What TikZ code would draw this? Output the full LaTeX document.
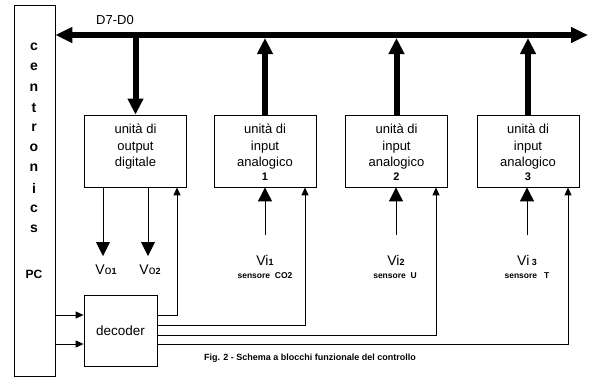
\documentclass[tikz,border=0pt]{standalone}
\usepackage{fontspec}
\setmainfont{Liberation Sans}
\usetikzlibrary{arrows.meta}
\begin{document}
\begin{tikzpicture}[x=1pt,y=-1pt,
  frame/.style={draw, line width=0.8pt, inner sep=0pt},
  box/.style={frame, minimum width=102pt, minimum height=72pt},
  boxtxt/.style={font=\fontsize{13}{16.5}\selectfont, align=center, inner sep=0pt, anchor=north},
  letter/.style={font=\fontsize{14}{14}\selectfont\bfseries, inner sep=0pt},
  bus/.style={line width=6pt},
  thinline/.style={line width=0.9pt},
  bustip/.style={-{Triangle[length=16pt,width=15pt]}},
  midtip/.style={-{Triangle[length=14pt,width=14pt]}},
  smalltip/.style={-{Triangle[length=8pt,width=7pt]}},
  vlab/.style={font=\fontsize{14}{14}\selectfont, inner sep=0pt},
  slab/.style={font=\fontsize{8.5}{8.5}\selectfont\bfseries, inner sep=0pt},
  numtxt/.style={font=\fontsize{11}{12}\selectfont\bfseries}
]
\useasboundingbox (0,0) rectangle (593,378);
\fill[white] (0,0) rectangle (593,378);

% centronics
\node[frame, minimum width=41pt, minimum height=371pt] (cent) at (34.5,190.5) {};
\foreach \l [count=\i] in {c,e,n,t,r,o,n,i,c,s}
  \node[letter] (cl\i) at (34,{47+20.2*(\i-1)}) {\l};
\node[letter, font=\fontsize{12}{12}\selectfont\bfseries] (pc) at (34,274) {PC};

% bus
\coordinate (busR) at (588,35);
\draw[bus, {Triangle[length=17pt,width=15pt]}-{Triangle[length=17pt,width=15pt]}] (cent.east |- busR) -- (busR);
\node[font=\fontsize{13}{13}\selectfont, inner sep=0pt] (dlab) at (115,20) {D7-D0};

% boxes
\node[box] (u1) at (135.5,151) {};
\node[box] (u2) at (265,151) {};
\node[box] (u3) at (396.5,151) {};
\node[box] (u4) at (528,151) {};
\node[boxtxt] (t1) at ([yshift=-9.5pt]u1.north) {unità di\\output\\digitale};
\node[boxtxt] (t2) at ([yshift=-9.5pt]u2.north) {unità di\\input\\analogico\\[-2.5pt]{\fontsize{11}{12}\selectfont\bfseries 1}};
\node[boxtxt] (t3) at ([yshift=-9.5pt]u3.north) {unità di\\input\\analogico\\[-2.5pt]{\fontsize{11}{12}\selectfont\bfseries 2}};
\node[boxtxt] (t4) at ([yshift=-9.5pt]u4.north) {unità di\\input\\analogico\\[-2.5pt]{\fontsize{11}{12}\selectfont\bfseries 3}};

% bus taps
\draw[bus, bustip] (u1.north |- busR) -- (u1.north);
\draw[bus, bustip] (u2.north) -- ([yshift=-3pt]u2.north |- busR);
\draw[bus, bustip] (u3.north) -- ([yshift=-3pt]u3.north |- busR);
\draw[bus, bustip] (u4.north) -- ([yshift=-3pt]u4.north |- busR);

% outputs
\coordinate (a1) at (103,256);
\coordinate (a2) at (148,256);
\draw[thinline, midtip] (a1 |- u1.south) -- (a1);
\draw[thinline, midtip] (a2 |- u1.south) -- (a2);
\node[vlab] (vo1) at (106,270) {V{\fontsize{12}{12}\selectfont o}{\fontsize{9}{9}\selectfont\bfseries 1}};
\node[vlab] (vo2) at (150,270) {V{\fontsize{12}{12}\selectfont o}{\fontsize{9}{9}\selectfont\bfseries 2}};

% inputs
\coordinate (s1) at (265,235);
\coordinate (s2) at (396,235);
\coordinate (s3) at (527,235);
\draw[thinline, midtip] (s1) -- (s1 |- u2.south);
\draw[thinline, midtip] (s2) -- (s2 |- u3.south);
\draw[thinline, midtip] (s3) -- (s3 |- u4.south);
\node[vlab] (vi1) at (265,260) {Vi{\fontsize{9}{9}\selectfont\bfseries 1}};
\node[vlab] (vi2) at (396,260) {Vi{\fontsize{9}{9}\selectfont\bfseries 2}};
\node[vlab] (vi3) at (527,260) {Vi\,{\fontsize{9}{9}\selectfont\bfseries 3}};
\node[slab] (se1) at (265,276) {sensore\ \ CO2};
\node[slab] (se2) at (395,276) {sensore\ \ U};
\node[slab] (se3) at (527,276) {sensore\ \ \ T};

% decoder
\node[frame, minimum width=73pt, minimum height=71pt, font=\fontsize{13.5}{15}\selectfont] (dec) at (120.5,330.5) {decoder};
\coordinate (y1) at (0,315);
\coordinate (y2) at (0,325);
\coordinate (y3) at (0,335);
\coordinate (y4) at (0,344);
\coordinate (x1) at (177,0);
\coordinate (x2) at (305,0);
\coordinate (x3) at (436,0);
\coordinate (x4) at (568,0);
\draw[thinline, smalltip] (cent.east |- y1) -- (dec.west |- y1);
\draw[thinline, smalltip] (cent.east |- y4) -- (dec.west |- y4);
\draw[thinline, smalltip] (dec.east |- y1) -| (x1 |- u1.south);
\draw[thinline, smalltip] (dec.east |- y2) -| (x2 |- u2.south);
\draw[thinline, smalltip] (dec.east |- y3) -| (x3 |- u3.south);
\draw[thinline, smalltip] (dec.east |- y4) -| (x4 |- u4.south);

% caption
\node[font=\fontsize{9}{9}\selectfont\bfseries, inner sep=0pt] (cap) at (310,358) {Fig. 2 - Schema a blocchi funzionale del controllo};
\end{tikzpicture}
\end{document}
